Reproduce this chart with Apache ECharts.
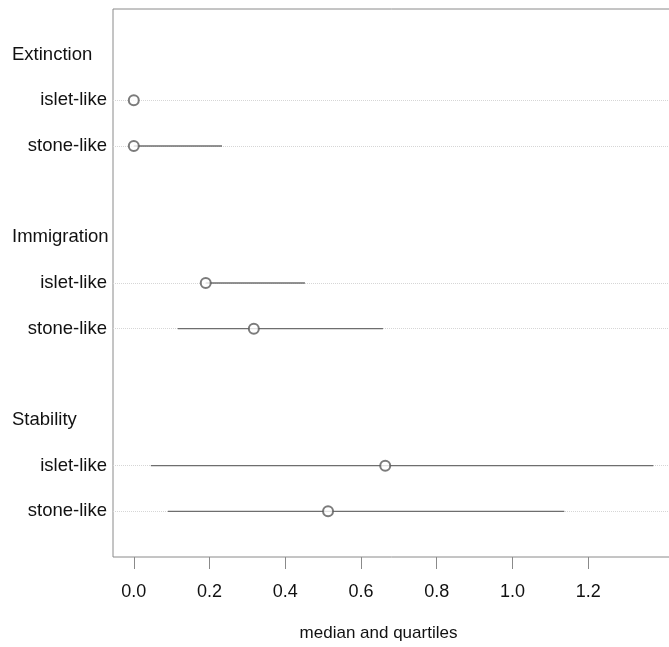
<!DOCTYPE html>
<html>
<head>
<meta charset="utf-8">
<script src="https://cdn.jsdelivr.net/npm/echarts@6/dist/echarts.min.js"></script>
<style>html,body{margin:0;padding:0;background:#fff;overflow:hidden}#c{width:669px;height:647px}</style>
</head>
<body>
<div id="c"></div>
<script>
// Data
const groups = ['Extinction', 'Immigration', 'Stability'];
const subs = ['islet-like', 'stone-like'];
// per group: [islet-like, stone-like]
const medians = [[0.0, 0.0], [0.19, 0.317], [0.664, 0.513]];
const q1 = [[0.0, 0.0], [0.19, 0.116], [0.045, 0.09]];
const q3 = [[0.0, 0.233], [0.452, 0.658], [1.372, 1.137]];
const xTicks = [0, 0.2, 0.4, 0.6, 0.8, 1.0, 1.2];

// Build category rows: '' top pad, then header, subs, blank separator...
const cats = [''];
const kinds = ['pad'];
const medianPts = [];
const rangeRows = [];
groups.forEach((g, gi) => {
  cats.push(g); kinds.push('header');
  subs.forEach((s, si) => {
    const idx = cats.length;
    cats.push(s); kinds.push('sub');
    medianPts.push([medians[gi][si], idx]);
    rangeRows.push([q1[gi][si], q3[gi][si], idx]);
  });
  cats.push(''); kinds.push('pad');
});

const xmin = -0.0549, xmax = 1.4266;
const font = 'Liberation Sans, Arial, Helvetica, sans-serif';

const chart = echarts.init(document.getElementById('c'), null, {renderer: 'canvas'});
chart.setOption({
  animation: false,
  grid: {left: 113, top: 9, width: 561, height: 548, outerBoundsMode: 'none', containLabel: false,
    show: true, borderColor: '#8a8a8a', borderWidth: 1, backgroundColor: 'transparent'},
  xAxis: {
    type: 'value', min: xmin, max: xmax,
    axisLine: {show: false},
    splitLine: {show: false},
    axisTick: {show: true, customValues: xTicks, length: 12, lineStyle: {color: '#8a8a8a', width: 1}},
    axisLabel: {customValues: xTicks, margin: 26, fontSize: 18, color: '#111', fontFamily: font,
      formatter: v => Number(v).toFixed(1)},
    name: 'median and quartiles', nameLocation: 'middle', nameGap: 68,
    nameTextStyle: {fontSize: 17, color: '#111', fontFamily: font, padding: [0, 30, 0, 0]}
  },
  yAxis: [{
    type: 'category', data: cats, inverse: true, boundaryGap: false,
    axisLine: {show: false}, axisTick: {show: false},
    axisLabel: {interval: 0, margin: 6, fontSize: 18.5, color: '#111', fontFamily: font,
      formatter: (v, i) => kinds[i] === 'sub' ? v : ''},
    splitLine: {show: true, interval: (i) => kinds[i] === 'sub',
      lineStyle: {type: 'dotted', color: '#d6d6d6', width: 1}}
  }, {
    type: 'category', data: cats, inverse: true, boundaryGap: false, position: 'left',
    axisLine: {show: false}, axisTick: {show: false}, splitLine: {show: false},
    axisLabel: {interval: 0, margin: 101, align: 'left', fontSize: 18.5, color: '#111', fontFamily: font,
      formatter: (v, i) => kinds[i] === 'header' ? v : ''}
  }],
  series: [{
    type: 'custom',
    data: rangeRows,
    encode: {x: [0, 1], y: 2},
    renderItem: (params, api) => {
      const a = api.coord([api.value(0), api.value(2)]);
      const b = api.coord([api.value(1), api.value(2)]);
      return {type: 'line', shape: {x1: a[0], y1: a[1], x2: b[0], y2: b[1]},
        style: {stroke: '#6e6e6e', lineWidth: 1.4}};
    },
    z: 2
  }, {
    type: 'scatter',
    data: medianPts,
    symbol: 'emptyCircle', symbolSize: 10,
    itemStyle: {color: '#5a5a5a', borderColor: '#5a5a5a', borderWidth: 1},
    z: 3
  }]
});
</script>
</body>
</html>
